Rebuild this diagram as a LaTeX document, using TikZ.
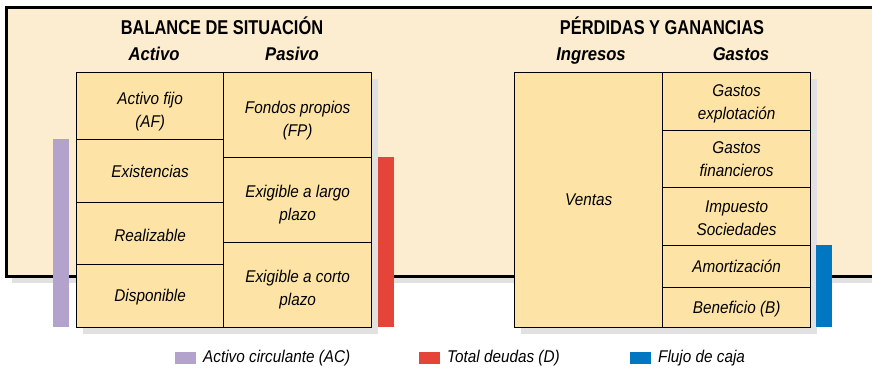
\documentclass[tikz,border=0pt]{standalone}
\usepackage{fontspec}
\setmainfont{Liberation Sans}[FakeStretch=0.9]
\newfontfamily\titlefont{Liberation Sans}[FakeStretch=0.82]
\definecolor{panelbg}{RGB}{253,237,208}
\definecolor{cellbg}{RGB}{253,228,166}
\definecolor{shadowgray}{RGB}{225,225,225}
\definecolor{acpurple}{RGB}{179,162,203}
\definecolor{dred}{RGB}{228,69,56}
\definecolor{fblue}{RGB}{0,119,192}
\tikzset{
  cell/.style={draw=black, line width=1.3pt, fill=cellbg, inner sep=0pt, anchor=north west},
  celltext/.style={inner sep=0pt, align=center, font=\fontsize{17}{23}\selectfont\itshape},
  bar/.style={draw=none, inner sep=0pt, anchor=north west},
  shadowbox/.style={draw=none, fill=shadowgray, inner sep=0pt, anchor=north west},
  title/.style={inner sep=0pt, anchor=base, font=\titlefont\fontsize{20}{24}\selectfont\bfseries},
  colhead/.style={inner sep=0pt, anchor=base, font=\fontsize{18.5}{22}\selectfont\bfseries\itshape},
  legsq/.style={draw=none, inner sep=0pt, anchor=north west, minimum width=21pt, minimum height=12pt},
  legtxt/.style={inner sep=0pt, anchor=base west, font=\fontsize{17}{20}\selectfont\itshape},
}
\newcommand\cellbox[7][0]{%
  \node[cell, minimum width={(#5-#3)*1pt}, minimum height={(#6-#4)*1pt}] (#2) at (#3,#4) {};
  \node[celltext, yshift=-#1pt] (#2-t) at (#2.center) {#7};}
\newcommand\rectnode[6]{\node[#6, minimum width={(#4-#2)*1pt}, minimum height={(#5-#3)*1pt}] (#1) at (#2,#3) {};}
\begin{document}
\begin{tikzpicture}[x=1pt,y=-1pt]
\useasboundingbox (0,0) rectangle (872,370);
% panel
\rectnode{panelshadow}{12}{13}{885}{283}{shadowbox}
\node[draw=black, line width=3pt, fill=panelbg, inner sep=0pt, anchor=north west,
  minimum width=880pt, minimum height=269pt] (panel) at (4.5,6) {};
% titles
\node[title] (tbal) at (222,34.3) {BALANCE DE SITUACIÓN};
\node[title] (tpyg) at (662,34.3) {PÉRDIDAS Y GANANCIAS};
\node[colhead] (hact) at (154,60.7) {Activo};
\node[colhead] (hpas) at (292,60.7) {Pasivo};
\node[colhead] (hing) at (591,60.7) {Ingresos};
\node[colhead] (hgas) at (741,60.7) {Gastos};
% shadows
\rectnode{lshadow}{83}{79}{378}{334}{shadowbox}
\rectnode{rshadow}{521}{79}{817}{334}{shadowbox}
% left table
\cellbox[5]{af}{76}{72}{223}{139}{Activo fijo\\(AF)}
\cellbox{ex}{76}{139}{223}{202}{Existencias}
\cellbox[2]{re}{76}{202}{223}{264}{Realizable}
\cellbox[1]{di}{76}{264}{223}{327}{Disponible}
\cellbox[5]{fp}{223}{72}{371}{157}{Fondos propios\\(FP)}
\cellbox[4]{lp}{223}{157}{371}{242}{Exigible a largo\\plazo}
\cellbox[4]{cp}{223}{242}{371}{327}{Exigible a corto\\plazo}
% right table
\cellbox{ve}{514}{72}{662}{327}{Ventas}
\cellbox[2]{ge}{662}{72}{810}{130}{Gastos\\explotación}
\cellbox{gf}{662}{130}{810}{187}{Gastos\\financieros}
\cellbox[1.5]{is}{662}{187}{810}{245}{Impuesto\\Sociedades}
\cellbox{am}{662}{245}{810}{287}{Amortización}
\cellbox[1]{be}{662}{287}{810}{327}{Beneficio (B)}
% bars
\rectnode{acbar}{53}{139}{69}{327}{bar, fill=acpurple}
\rectnode{dbar}{378}{157}{394}{327}{bar, fill=dred}
\rectnode{fbar}{816}{245}{832}{327}{bar, fill=fblue}
% legend
\node[legsq, fill=acpurple] (lg1) at (175,352) {};
\node[legtxt] (lt1) at (203,362.7) {Activo circulante (AC)};
\node[legsq, fill=dred] (lg2) at (419,352) {};
\node[legtxt] (lt2) at (447,362.7) {Total deudas (D)};
\node[legsq, fill=fblue] (lg3) at (630,352) {};
\node[legtxt] (lt3) at (658,362.7) {Flujo de caja};
\end{tikzpicture}
\end{document}
